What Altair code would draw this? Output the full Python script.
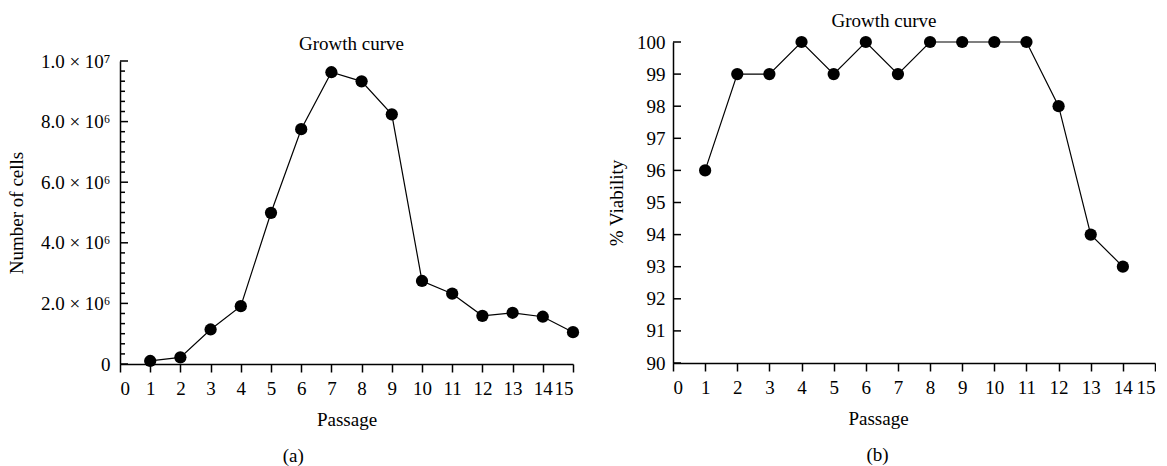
import altair as alt
import pandas as pd

# ---------------- data ----------------
passage_a = [1, 2, 3, 4, 5, 6, 7, 8, 9, 10, 11, 12, 13, 14, 15]
cells = [0.10e6, 0.22e6, 1.14e6, 1.91e6, 4.99e6, 7.75e6, 9.63e6, 9.33e6,
         8.24e6, 2.74e6, 2.32e6, 1.59e6, 1.69e6, 1.56e6, 1.05e6]

passage_b = [1, 2, 3, 4, 5, 6, 7, 8, 9, 10, 11, 12, 13, 14]
viability = [96, 99, 99, 100, 99, 100, 99, 100, 100, 100, 100, 98, 94, 93]

x_ticks = [0, 1, 2, 3, 4, 5, 6, 7, 8, 9, 10, 11, 12, 13, 14, 15]
ya_major = [0, 2e6, 4e6, 6e6, 8e6, 1e7]
ya_labels = ["0", "2.0 × 10⁶", "4.0 × 10⁶", "6.0 × 10⁶", "8.0 × 10⁶", "1.0 × 10⁷"]
ya_minor = [0.333e6, 0.667e6, 1.0e6, 1.333e6, 1.667e6,
            2.333e6, 2.667e6, 3.0e6, 3.333e6, 3.667e6,
            4.333e6, 4.667e6, 5.0e6, 5.333e6, 5.667e6,
            6.333e6, 6.667e6, 7.0e6, 7.333e6, 7.667e6,
            8.333e6, 8.667e6, 9.0e6, 9.333e6, 9.667e6]
yb_ticks = [90, 91, 92, 93, 94, 95, 96, 97, 98, 99, 100]

FONT = "Liberation Serif"
FS = 19

df_a = pd.DataFrame({"Passage": passage_a, "Cells": cells})
df_b = pd.DataFrame({"Passage": passage_b, "Viability": viability})
df_amaj = pd.DataFrame({"Cells": ya_major})
df_amin = pd.DataFrame({"Cells": ya_minor})
df_bt = pd.DataFrame({"Viability": yb_ticks})

label_expr_a = " : ".join(
    [f"datum.value == {v} ? '{l}'" for v, l in zip(ya_major, ya_labels)]
) + " : ''"

# ---------------- panel (a) ----------------
# plot group is 322 px tall; the data range sits in its lower 303 px
xa = alt.X("Passage:Q", scale=alt.Scale(domain=[0, 15], nice=False),
           axis=alt.Axis(values=x_ticks, format="d", title="Passage",
                         tickSize=8, labelPadding=7, titlePadding=12))
ya_scale = alt.Scale(domain=[0, 1e7], nice=False, range=[322, 19])
ya_axis = alt.Axis(values=ya_major, labelExpr=label_expr_a, ticks=False,
                   labelPadding=10, title="Number of cells", titlePadding=14)

line_a = alt.Chart(df_a).mark_line(color="black", strokeWidth=1.2).encode(
    x=xa, y=alt.Y("Cells:Q", scale=ya_scale, axis=ya_axis, title="Number of cells"))
pts_a = alt.Chart(df_a).mark_circle(size=150, color="black", opacity=1).encode(
    x=xa, y=alt.Y("Cells:Q", scale=ya_scale, axis=ya_axis, title="Number of cells"))
tmaj_a = alt.Chart(df_amaj).mark_rule(color="black", strokeWidth=1.5).encode(
    y=alt.Y("Cells:Q", scale=ya_scale, axis=ya_axis, title="Number of cells"),
    x=alt.value(0), x2=alt.value(8))
tmin_a = alt.Chart(df_amin).mark_rule(color="black", strokeWidth=1.5).encode(
    y=alt.Y("Cells:Q", scale=ya_scale, axis=ya_axis, title="Number of cells"),
    x=alt.value(0), x2=alt.value(5))

panel_a = alt.layer(line_a, pts_a, tmaj_a, tmin_a).properties(
    width=453, height=322,
    title=alt.TitleParams("Growth curve", font=FONT, fontSize=FS,
                          fontWeight="normal", offset=-12, dx=5,
                          anchor="middle", frame="group"))
block_a = alt.vconcat(panel_a).properties(
    title=alt.TitleParams("(a)", orient="bottom", font=FONT, fontSize=FS,
                          fontWeight="normal", offset=18, anchor="middle"))

# ---------------- panel (b) ----------------
xb = alt.X("Passage:Q", scale=alt.Scale(domain=[0, 15], nice=False),
           axis=alt.Axis(values=x_ticks, format="d", title="Passage",
                         tickSize=8, labelPadding=7, titlePadding=12, titleX=205))
yb_scale = alt.Scale(domain=[90, 100], nice=False)
yb_axis = alt.Axis(values=yb_ticks, format="d", ticks=False, labelPadding=8,
                   title="% Viability", titlePadding=10)

line_b = alt.Chart(df_b).mark_line(color="black", strokeWidth=1.2).encode(
    x=xb, y=alt.Y("Viability:Q", scale=yb_scale, axis=yb_axis, title="% Viability"))
pts_b = alt.Chart(df_b).mark_circle(size=150, color="black", opacity=1).encode(
    x=xb, y=alt.Y("Viability:Q", scale=yb_scale, axis=yb_axis, title="% Viability"))
t_b = alt.Chart(df_bt).mark_rule(color="black", strokeWidth=1.5).encode(
    y=alt.Y("Viability:Q", scale=yb_scale, axis=yb_axis, title="% Viability"),
    x=alt.value(0), x2=alt.value(8))

panel_b = alt.layer(line_b, pts_b, t_b).properties(
    width=482, height=321,
    title=alt.TitleParams("Growth curve", font=FONT, fontSize=FS,
                          fontWeight="normal", offset=2,
                          anchor="middle", frame="group", dx=-30))
block_b = alt.vconcat(panel_b).properties(
    title=alt.TitleParams("(b)", orient="bottom", font=FONT, fontSize=FS,
                          fontWeight="normal", offset=18, anchor="middle", dx=-4))

chart = alt.concat(block_a, block_b, columns=2, spacing=27).properties(
    padding={"left": 7, "top": 12, "right": 0, "bottom": 0},
    background="white",
).configure_view(stroke=None).configure_axis(
    grid=False, domainColor="black", domainWidth=1.5, tickColor="black",
    tickWidth=1.5, labelColor="black", titleColor="black",
    labelFont=FONT, titleFont=FONT, labelFontSize=FS, titleFontSize=FS,
    titleFontWeight="normal",
).configure_title(color="black")

chart.save("out.html", embed_options={"renderer": "svg", "actions": False})
